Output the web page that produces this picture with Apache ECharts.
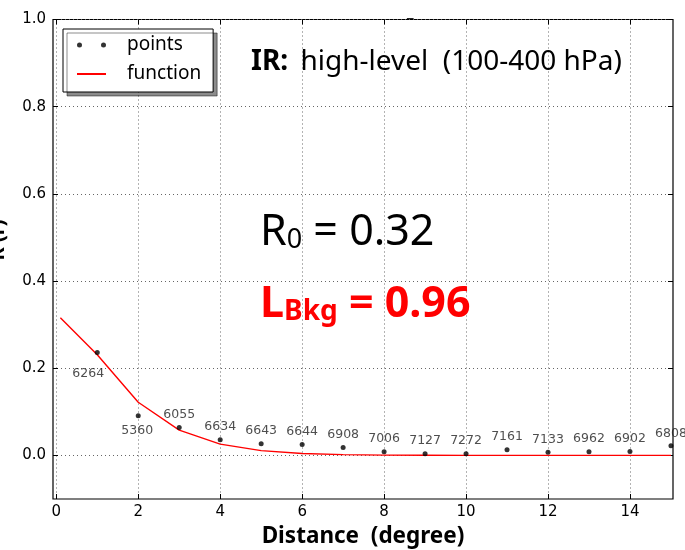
<!DOCTYPE html>
<html>
<head>
<meta charset="utf-8">
<script src="https://cdn.jsdelivr.net/npm/echarts@6/dist/echarts.min.js"></script>
<style>
  html, body { margin: 0; padding: 0; background: #fff; }
  #chart { width: 685px; height: 550px; }
</style>
</head>
<body>
<div id="chart"></div>
<script>
// Observed correlation vs. separation distance
const distance = [1, 2, 3, 4, 5, 6, 7, 8, 9, 10, 11, 12, 13, 14, 15];
const correlation = [0.236, 0.091, 0.064, 0.036, 0.027, 0.025, 0.018, 0.0085,
                     0.004, 0.004, 0.013, 0.007, 0.0085, 0.009, 0.022];
// Number of samples in each distance bin
const sampleCounts = [6264, 5360, 6055, 6634, 6643, 6644, 6908, 7006,
                      7127, 7272, 7161, 7133, 6962, 6902, 6808];

// Fitted correlation function
const fitDistance = [0.1, 1, 2, 3, 4, 5, 6, 7, 8, 9, 10, 11, 12, 13, 14, 15];
const fitValues = [0.316, 0.231, 0.122, 0.058, 0.026, 0.011, 0.0045, 0.0018,
                   0.0007, 0.0003, 0.0001, 0, 0, 0, 0, 0];

// Tick positions
const xTicks = [0, 2, 4, 6, 8, 10, 12, 14];
const yTicks = [0, 0.2, 0.4, 0.6, 0.8, 1.0];

const R0 = '0.32';
const LBkg = '0.96';

const chart = echarts.init(document.getElementById('chart'), null, { renderer: 'canvas' });

const tickFont = 'DejaVu Sans';
const textFont = 'Noto Sans';

const gridLine = { show: true, lineStyle: { color: '#666', width: 1, type: [1, 3] } };
const noLine = { show: false, onZero: false };
const innerTick = (vals) => ({ show: true, inside: true, length: 5, customValues: vals, lineStyle: { color: '#000' } });

const pointData = distance.map((d, i) => {
  const item = { value: [d, correlation[i]] };
  if (i === 0) item.label = { position: 'bottom', distance: 12, offset: [-9, 0] };
  if (i === 1) item.label = { position: 'bottom', distance: 6, offset: [-1, 0] };
  return item;
});

const fitData = fitDistance.map((d, i) => [d, fitValues[i]]);

const twoDots = 'path://M0,2.5a2.5,2.5 0 1,0 5,0a2.5,2.5 0 1,0 -5,0zM24,2.5a2.5,2.5 0 1,0 5,0a2.5,2.5 0 1,0 -5,0z';

const option = {
  backgroundColor: '#fff',
  animation: false,
  grid: {
    left: 53, right: 12, top: 19.5, bottom: 51,
    outerBoundsMode: 'none',
    containLabel: false,
    show: true, borderColor: '#000', borderWidth: 1.2, backgroundColor: 'transparent'
  },
  title: [
    {
      text: '{b|IR:} {n| high-level  (100-400 hPa)}',
      left: 246, top: 43,
      textStyle: {
        rich: {
          b: { fontFamily: textFont, fontWeight: 'bold', fontSize: 28, color: '#000' },
          n: { fontFamily: textFont, fontWeight: 'normal', fontSize: 28, color: '#000' }
        }
      }
    },
    {
      text: '{r|R}{s|0}{r| = ' + R0 + '}',
      left: 255, top: 199,
      textStyle: {
        rich: {
          r: { fontFamily: textFont, fontWeight: 'normal', fontSize: 43, color: '#000', lineHeight: 50, verticalAlign: 'bottom' },
          s: { fontFamily: textFont, fontWeight: 'normal', fontSize: 27, color: '#000', lineHeight: 24, verticalAlign: 'bottom' }
        }
      }
    },
    {
      text: '{r|L}{s|Bkg}{r| = ' + LBkg + '}',
      left: 255, top: 271,
      textStyle: {
        rich: {
          r: { fontFamily: textFont, fontWeight: 'bold', fontSize: 43, color: '#ff0000', lineHeight: 50, verticalAlign: 'bottom' },
          s: { fontFamily: textFont, fontWeight: 'bold', fontSize: 28, color: '#ff0000', lineHeight: 32, verticalAlign: 'bottom' }
        }
      }
    }
  ],
  legend: {
    orient: 'vertical',
    left: 63, top: 29,
    padding: [6, 12, 8, 13],
    itemGap: 9,
    itemWidth: 29,
    itemHeight: 5,
    backgroundColor: '#fff',
    borderColor: '#000',
    borderWidth: 1,
    borderRadius: 0,
    shadowColor: 'rgba(0,0,0,0.45)',
    shadowBlur: 0,
    shadowOffsetX: 4,
    shadowOffsetY: 4,
    textStyle: { fontFamily: textFont, fontSize: 19, color: '#000', lineHeight: 20, padding: [0, 0, 0, 16] },
    data: [
      { name: 'points', icon: twoDots },
      { name: 'function', itemStyle: { color: 'rgba(0,0,0,0)', borderWidth: 0 } }
    ]
  },
  xAxis: [
    {
      type: 'value', min: -0.08, max: 15.05, position: 'bottom',
      name: 'Distance  (degree)', nameLocation: 'middle', nameGap: 26,
      nameTextStyle: { fontFamily: textFont, fontWeight: 'bold', fontSize: 22.5, color: '#000' },
      axisLine: noLine,
      axisTick: innerTick(xTicks),
      axisLabel: { customValues: xTicks, fontFamily: tickFont, fontSize: 15, color: '#000', margin: 6 },
      splitLine: gridLine
    },
    {
      type: 'value', min: -0.08, max: 15.05, position: 'top',
      axisLine: noLine,
      axisTick: innerTick(xTicks),
      axisLabel: { show: false },
      splitLine: { show: false }
    }
  ],
  yAxis: [
    {
      type: 'value', min: -0.1, max: 1.0, position: 'left',
      axisLine: noLine,
      axisTick: innerTick(yTicks),
      axisLabel: {
        customValues: yTicks, fontFamily: tickFont, fontSize: 15, color: '#000', margin: 7,
        formatter: v => v.toFixed(1)
      },
      splitLine: gridLine
    },
    {
      type: 'value', min: -0.1, max: 1.0, position: 'right',
      axisLine: noLine,
      axisTick: innerTick(yTicks),
      axisLabel: { show: false },
      splitLine: { show: false }
    }
  ],
  graphic: [
    {
      type: 'text', x: 8, y: 240, rotation: Math.PI / 2,
      style: {
        text: 'R (r)', font: 'bold 20px "Noto Sans"', fill: '#000',
        textAlign: 'center', textVerticalAlign: 'bottom'
      }
    },
    {
      type: 'text', x: 407, y: 6,
      style: { text: '_', font: '13px "DejaVu Sans"', fill: '#000' }
    }
  ],
  series: [
    {
      name: 'points', type: 'scatter',
      data: pointData,
      symbol: 'circle', symbolSize: 5,
      itemStyle: { color: '#000' },
      label: {
        show: true, position: 'top', distance: 3.5,
        fontFamily: tickFont, fontSize: 12.5, color: '#222',
        formatter: p => String(sampleCounts[p.dataIndex])
      },
      z: 3
    },
    {
      name: 'function', type: 'line',
      data: fitData,
      symbol: 'none',
      lineStyle: { color: '#ff0000', width: 1.4 },
      itemStyle: { color: '#ff0000' },
      z: 2
    }
  ]
};

chart.setOption(option);
</script>
</body>
</html>
